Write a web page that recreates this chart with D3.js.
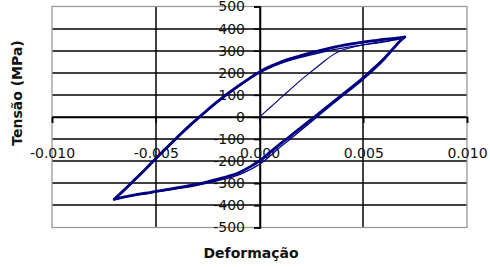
<!DOCTYPE html>
<html>
<head>
<meta charset="utf-8">
<script src="https://cdn.jsdelivr.net/npm/d3@7"></script>
<style>
  body { margin: 0; background: #fff; }
  text { font-family: 'DejaVu Sans', sans-serif; }
</style>
</head>
<body>
<div id="chart"></div>
<script>

// DATA

var xTicks = [-0.010, -0.005, 0.000, 0.005, 0.010];
var xTickLabels = ['-0.010', '-0.005', '0.000', '0.005', '0.010'];
var yTicks = [-500, -400, -300, -200, -100, 0, 100, 200, 300, 400, 500];
var yTickLabels = ['-500', '-400', '-300', '-200', '-100', '0', '100', '200', '300', '400', '500'];

// first loading (thin line from the origin)
var loadStrain = [0, 0.0005, 0.0010, 0.0015, 0.0020, 0.0025, 0.0030, 0.0035, 0.0040, 0.0045, 0.0050, 0.0055, 0.0060, 0.0065, 0.0070];
var loadStress = [0, 42, 84, 126, 168, 206, 243, 279, 303, 316, 326, 335, 343, 350, 358];

// cycle 1 : reloading from the compression tip up to the tension tip
var upStrain = [-0.0070, -0.0065, -0.0060, -0.0055, -0.0050, -0.0045, -0.0040, -0.0035, -0.0030, -0.0025, -0.0020, -0.0015, -0.0010, -0.0005, 0.0000, 0.0005, 0.0010, 0.0015, 0.0020, 0.0025, 0.0030, 0.0035, 0.0040, 0.0045, 0.0050, 0.0055, 0.0060, 0.0065, 0.0070];
var upStress = [-372, -328, -282, -236, -188, -141, -95, -50, -8, 33, 72, 108, 142, 174, 204, 228, 248, 264, 278, 291, 303, 314, 324, 332, 339, 345, 351, 356, 362];

// cycle 1 : unloading from the tension tip down to the compression tip
var downStrain = [0.0070, 0.0067, 0.0065, 0.0060, 0.0055, 0.0050, 0.0045, 0.0040, 0.0035, 0.0030, 0.0025, 0.0020, 0.0015, 0.0010, 0.0005, 0.0000, -0.0005, -0.0010, -0.0015, -0.0020, -0.0025, -0.0030, -0.0035, -0.0040, -0.0045, -0.0050, -0.0055, -0.0060, -0.0065, -0.0070];
var downStress = [362, 337, 316, 264, 220, 177, 139, 101, 64, 27, -11, -48, -85, -122, -160, -199, -228, -252, -268, -281, -293, -304, -313, -321, -329, -337, -345, -352, -361, -372];

// cycle 2 (runs almost on top of cycle 1)
var up2Strain = [-0.0069, -0.0060, -0.0050, -0.0040, -0.0030, -0.0020, -0.0010, 0.0000, 0.0010, 0.0020, 0.0030, 0.0040, 0.0050, 0.0060, 0.0069];
var up2Stress = [-368, -286, -192, -99, -12, 68, 138, 200, 242, 270, 293, 312, 326, 340, 356];
var down2Strain = [0.0069, 0.0065, 0.0060, 0.0050, 0.0040, 0.0030, 0.0020, 0.0010, 0.0000, -0.0010, -0.0020, -0.0030, -0.0040, -0.0050, -0.0060, -0.0069];
var down2Stress = [356, 312, 258, 170, 94, 18, -60, -136, -214, -262, -288, -309, -325, -339, -354, -368];

var width = 490, height = 267;

// RENDERING

d3.select('#chart').selectAll('*').remove();

var chart = d3.select('#chart')
  .append('svg')
    .attr('width', width)
    .attr('height', height);

chart.append('rect')
  .attr('width', width)
  .attr('height', height)
  .attr('fill', '#fff');

var x = d3.scaleLinear().domain([-0.010, 0.010]).range([52, 467]);
var y = d3.scaleLinear().domain([-500, 500]).range([227.5, 6.5]);

// GRID

chart.selectAll('line.hgrid')
  .data(yTicks.slice(1, -1))
  .enter().append('line')
    .attr('class', 'hgrid')
    .attr('x1', x.range()[0]).attr('x2', x.range()[1])
    .attr('y1', function(d) { return Math.round(y(d)); })
    .attr('y2', function(d) { return Math.round(y(d)); })
    .attr('stroke', '#000')
    .attr('stroke-width', 1.5);

chart.selectAll('line.vgrid')
  .data(xTicks.slice(1, -1))
  .enter().append('line')
    .attr('class', 'vgrid')
    .attr('y1', y.range()[0]).attr('y2', y.range()[1])
    .attr('x1', function(d) { return Math.round(x(d)); })
    .attr('x2', function(d) { return Math.round(x(d)); })
    .attr('stroke', '#000')
    .attr('stroke-width', 1.5);

chart.append('rect')
  .attr('x', x.range()[0])
  .attr('y', y.range()[1])
  .attr('width', x.range()[1] - x.range()[0])
  .attr('height', y.range()[0] - y.range()[1])
  .attr('fill', 'none')
  .attr('stroke', '#999')
  .attr('stroke-width', 1.3);

// AXES (crossing at the origin)

var yAxis = chart.append('g')
  .attr('transform', 'translate(' + Math.round(x(0)) + ',0)')
  .call(d3.axisLeft(y)
    .tickValues(yTicks)
    .tickSize(6)
    .tickPadding(9)
    .tickFormat(function(d, i) { return yTickLabels[i]; }));

var xAxis = chart.append('g')
  .attr('transform', 'translate(0,' + Math.round(y(0)) + ')')
  .call(d3.axisBottom(x)
    .tickValues(xTicks)
    .tickSize(6)
    .tickPadding(25)
    .tickFormat(function(d, i) { return xTickLabels[i]; }));

[xAxis, yAxis].forEach(function(a) {
  a.select('.domain').attr('stroke', '#000').attr('stroke-width', 1.5);
  a.selectAll('.tick line').attr('stroke', '#000').attr('stroke-width', 1.5);
  a.selectAll('.tick text')
    .attr('font-family', 'DejaVu Sans')
    .attr('font-size', 14)
    .attr('fill', '#111');
});

// CURVES

var line = d3.line()
  .x(function(d) { return x(d[0]); })
  .y(function(d) { return y(d[1]); })
  .curve(d3.curveMonotoneX);

function pairs(xs, ys) { return xs.map(function(v, i) { return [v, ys[i]]; }); }

var series = [
  { pts: pairs(up2Strain, up2Stress), w: 1.3 },
  { pts: pairs(down2Strain.slice().reverse(), down2Stress.slice().reverse()), w: 1.3 },
  { pts: pairs(upStrain, upStress), w: 2.8 },
  { pts: pairs(downStrain.slice().reverse(), downStress.slice().reverse()), w: 2.8 },
  { pts: pairs(loadStrain, loadStress), w: 1.1 }
];

chart.selectAll('path.curve')
  .data(series)
  .enter().append('path')
    .attr('class', 'curve')
    .attr('d', function(d) { return line(d.pts); })
    .attr('fill', 'none')
    .attr('stroke', '#000080')
    .attr('stroke-width', function(d) { return d.w; })
    .attr('stroke-linejoin', 'round')
    .attr('stroke-linecap', 'round');

// TITLES

chart.append('text')
  .text('Deformação')
  .attr('x', 251)
  .attr('y', 258)
  .attr('text-anchor', 'middle')
  .attr('font-weight', 'bold')
  .attr('font-size', 14)
  .attr('fill', '#111');

chart.append('text')
  .text('Tensão (MPa)')
  .attr('transform', 'translate(22,93) rotate(-90)')
  .attr('text-anchor', 'middle')
  .attr('font-weight', 'bold')
  .attr('font-size', 14)
  .attr('fill', '#111');

</script>
</body>
</html>
